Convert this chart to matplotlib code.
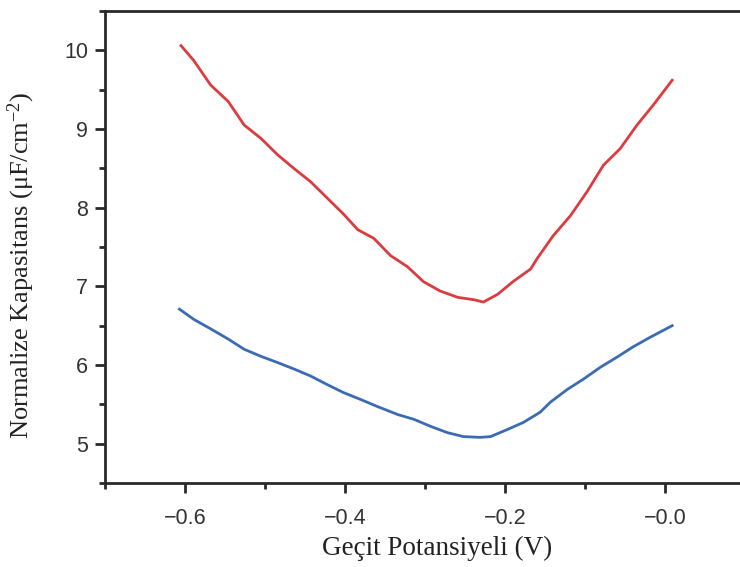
import matplotlib
matplotlib.use("Agg")
import matplotlib.pyplot as plt
from matplotlib.ticker import MultipleLocator

# Gate potential (V) and normalized capacitance (uF/cm^-2)
red_x = [-0.605, -0.589, -0.568, -0.546, -0.526, -0.505, -0.484, -0.464, -0.443,
         -0.422, -0.402, -0.384, -0.364, -0.343, -0.322, -0.302, -0.281, -0.259,
         -0.239, -0.227, -0.209, -0.190, -0.168, -0.160, -0.140, -0.118, -0.097,
         -0.077, -0.056, -0.035, -0.015, 0.009]
red_y = [10.06, 9.87, 9.56, 9.35, 9.05, 8.88, 8.67, 8.50, 8.33,
         8.12, 7.92, 7.72, 7.61, 7.39, 7.25, 7.06, 6.94, 6.86,
         6.83, 6.80, 6.90, 7.06, 7.22, 7.35, 7.64, 7.90, 8.21,
         8.54, 8.75, 9.05, 9.30, 9.62]

blue_x = [-0.607, -0.589, -0.568, -0.546, -0.526, -0.505, -0.484, -0.464, -0.443,
          -0.422, -0.402, -0.380, -0.359, -0.334, -0.314, -0.293, -0.272, -0.252,
          -0.231, -0.218, -0.197, -0.177, -0.156, -0.143, -0.122, -0.102, -0.081,
          -0.060, -0.040, -0.019, 0.009]
blue_y = [6.71, 6.58, 6.46, 6.33, 6.20, 6.11, 6.03, 5.95, 5.86,
          5.75, 5.65, 5.56, 5.47, 5.37, 5.31, 5.22, 5.14, 5.09,
          5.08, 5.09, 5.18, 5.27, 5.40, 5.53, 5.69, 5.82, 5.97,
          6.10, 6.23, 6.35, 6.50]

x_ticks = [-0.6, -0.4, -0.2, 0.0]
x_labels = ["\u22120.6", "\u22120.4", "\u22120.2", "\u22120.0"]
y_ticks = [5, 6, 7, 8, 9, 10]

plt.rcParams["mathtext.fontset"] = "custom"
plt.rcParams["mathtext.rm"] = "Liberation Serif"
plt.rcParams["mathtext.it"] = "Liberation Serif:italic"

fig = plt.figure(figsize=(7.4, 5.67), dpi=100)
ax = fig.add_axes([105 / 740, 1 - 483 / 567, 640 / 740, 472 / 567])

ax.plot(red_x, red_y, color="#dc3b3f", lw=2.0, solid_joinstyle="round")
ax.plot(blue_x, blue_y, color="#3b6cb3", lw=2.0, solid_joinstyle="round")

ax.set_xlim(-0.7, 0.1)
ax.set_ylim(4.5, 10.5)
ax.set_xticks(x_ticks)
ax.set_xticklabels(x_labels)
ax.set_yticks(y_ticks)
ax.xaxis.set_minor_locator(MultipleLocator(0.1))
ax.yaxis.set_minor_locator(MultipleLocator(0.5))

for s in ["left", "bottom", "top"]:
    ax.spines[s].set_linewidth(2.0)
    ax.spines[s].set_color("#2a2a2a")
ax.spines["right"].set_visible(False)

ax.tick_params(axis="both", which="major", direction="out", length=7, width=2,
               color="#2a2a2a", labelsize=15.5, labelcolor="#333333")
ax.tick_params(axis="both", which="minor", direction="out", length=4, width=2,
               color="#2a2a2a")
ax.tick_params(axis="x", which="major", pad=11)
ax.tick_params(axis="y", which="major", pad=5)
for lab in ax.get_xticklabels() + ax.get_yticklabels():
    lab.set_fontfamily("Liberation Sans")

ax.set_xlabel("Geçit Potansiyeli (V)", fontsize=19.5, family="Liberation Serif",
              color="#222222")
ax.set_ylabel("Normalize Kapasitans (\u03bcF/cm$^{-2}$)", fontsize=19,
              family="Liberation Serif", color="#222222")
ax.xaxis.set_label_coords((437 - 105) / 640, -(536 - 483) / 472)
ax.yaxis.set_label_coords(-(105 - 37) / 640, (483 - 265) / 472)

fig.savefig("out.png", dpi=100)
